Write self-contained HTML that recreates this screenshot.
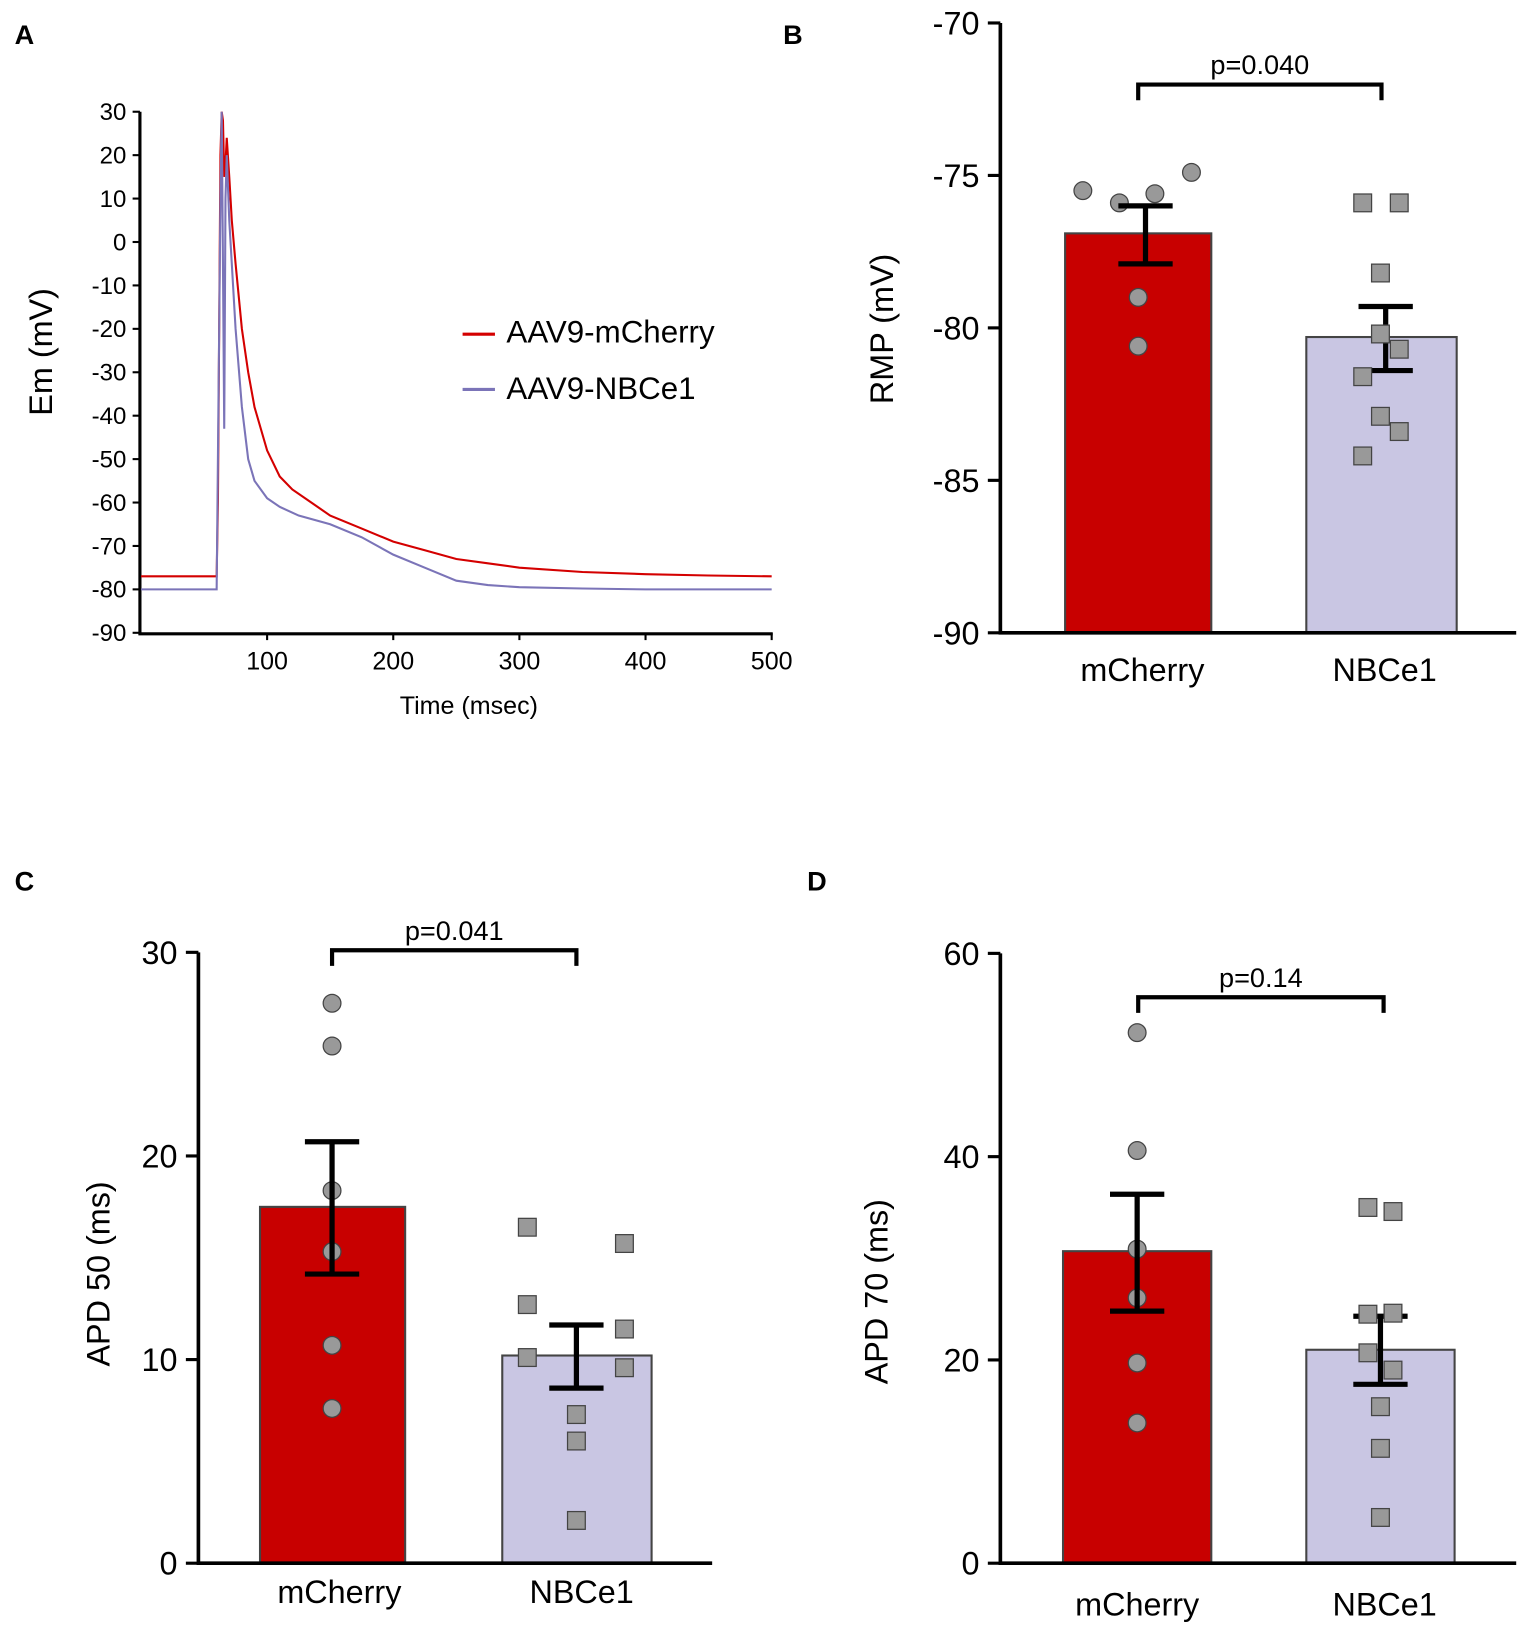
<!DOCTYPE html>
<html><head><meta charset="utf-8">
<style>
html,body{margin:0;padding:0;background:#fff;}
svg{display:block;font-family:"Liberation Sans",Arial,sans-serif;}
</style></head>
<body>
<svg id="fig" width="1535" height="1641" viewBox="0 0 1470 1571.5" preserveAspectRatio="none" xmlns="http://www.w3.org/2000/svg">
<rect width="1470" height="1572" fill="#fff"/>
<text x="14" y="42" font-size="26" font-weight="bold">A</text>
<text x="750" y="42" font-size="26" font-weight="bold">B</text>
<text x="14" y="853" font-size="26" font-weight="bold">C</text>
<text x="773" y="853" font-size="26" font-weight="bold">D</text>
<g id="pa"></g>
<g id="pb"></g>
<g id="pc"></g>
<g id="pd"></g>
</svg>
<script>
// Panel A data
const aTicksY = [30,20,10,0,-10,-20,-30,-40,-50,-60,-70,-80,-90];
const aTicksX = [100,200,300,400,500];
const redT = [0,60,61,62,63,64,65,66,67,68,70,72,75,80,85,90,100,110,120,135,150,175,200,225,250,275,300,350,400,450,500];
const redV = [-77,-77,-60,-20,20,30,28,15,18,24,15,5,-5,-20,-30,-38,-48,-54,-57,-60,-63,-66,-69,-71,-73,-74,-75,-76,-76.5,-76.8,-77];
const blueT = [0,60,61,62,63,64,65,66,67,68,70,75,80,85,90,100,110,125,150,175,200,225,250,275,300,350,400,450,500];
const blueV = [-80,-80,-50,-20,10,30,-5,-43,10,20,5,-20,-38,-50,-55,-59,-61,-63,-65,-68,-72,-75,-78,-79,-79.5,-79.8,-80,-80,-80];

const NS="http://www.w3.org/2000/svg";
function mk(par,tag,attrs,txt){const e=document.createElementNS(NS,tag);for(const k in attrs)e.setAttribute(k,attrs[k]);if(txt!==undefined)e.textContent=txt;par.appendChild(e);return e;}

(function(){
 const g=document.getElementById('pa');
 const x=t=>135+t*(739-135)/500, y=v=>107+(30-v)*(606-107)/120;
 const axes=mk(g,'path',{d:`M134 ${y(30)} V607 H740`,stroke:'#000','stroke-width':3,fill:'none'});
 
 
 aTicksY.forEach(v=>{
  mk(g,'line',{x1:127,x2:134,y1:y(v),y2:y(v),stroke:'#000','stroke-width':2});
  const t=mk(g,'text',{x:121,y:y(v)+8,'font-size':23,'text-anchor':'end'},v);
  
  
 });
 aTicksX.forEach(v=>{
  mk(g,'line',{x1:x(v),x2:x(v),y1:606,y2:613,stroke:'#000','stroke-width':2});
  const t=mk(g,'text',{x:x(v),y:641,'font-size':24,'text-anchor':'middle'},v);
  
  
 });
 const xl=mk(g,'text',{x:449,y:684,'font-size':24,'text-anchor':'middle'},'Time (msec)');
 
 
 const yl=mk(g,'text',{x:0,y:0,'font-size':31,'text-anchor':'middle',transform:'translate(50,337) rotate(-90)'},'Em (mV)');
 
 
 const red=mk(g,'polyline',{points:redT.map((t,i)=>x(t)+','+y(redV[i])).join(' '),stroke:'#d40000','stroke-width':2,fill:'none'});
 
 
 const blue=mk(g,'polyline',{points:blueT.map((t,i)=>x(t)+','+y(blueV[i])).join(' '),stroke:'#7b74b8','stroke-width':2,fill:'none'});
 
 
 mk(g,'line',{x1:443,x2:474,y1:320,y2:320,stroke:'#d40000','stroke-width':3});
 const l1=mk(g,'text',{x:485,y:328,'font-size':30},'AAV9-mCherry');
 
 
 mk(g,'line',{x1:443,x2:474,y1:373,y2:373,stroke:'#7b74b8','stroke-width':3});
 const l2=mk(g,'text',{x:485,y:382,'font-size':30},'AAV9-NBCe1');
 
 
})();

// Bar chart data
const categories = ['mCherry','NBCe1'];
// Panel B
const bMeans = [-76.9,-80.3];
const bSemLo = [-77.9,-81.4];
const bSemHi = [-76.0,-79.3];
const bPtsM = [-75.5,-75.9,-75.6,-74.9,-79.0,-80.6];
const bPtsN = [-75.9,-75.9,-78.2,-80.2,-80.7,-81.6,-82.9,-83.4,-84.2];
const bTicks = [-70,-75,-80,-85,-90];
// Panel C
const cMeans = [17.5,10.2];
const cSemLo = [14.2,8.6];
const cSemHi = [20.7,11.7];
const cPtsM = [27.5,25.4,18.3,15.3,10.7,7.6];
const cPtsN = [16.5,15.7,12.7,11.5,10.1,9.6,7.3,6.0,2.1];
const cTicks = [0,10,20,30];
// Panel D
const dMeans = [30.7,21.0];
const dSemLo = [24.8,17.6];
const dSemHi = [36.3,24.3];
const dPtsM = [52.2,40.6,30.9,26.1,19.7,13.8];
const dPtsN = [35.0,34.6,24.5,24.6,20.7,19.0,15.4,11.3,4.5];
const dTicks = [0,20,40,60];

function barPanel(id,o){
 const g=document.getElementById(id);
 const y=v=>o.yb+(v-o.vmin)*(o.yt-o.yb)/(o.vmax-o.vmin);
 const fills=['#c80000','#c9c6e3'];
 o.bars.forEach((b,i)=>{
  const top=y(o.means[i]);
  const r=mk(g,'rect',{x:b[0],y:top,width:b[1]-b[0],height:o.yb-top,fill:fills[i],stroke:'#444','stroke-width':2});
  
  
 });
 const ax=mk(g,'path',{d:`M${o.ax} ${o.yt} V${o.yb} H${o.xe}`,stroke:'#000','stroke-width':3.5,fill:'none'});
 
 
 o.ticks.forEach(v=>{
  mk(g,'line',{x1:o.ax-12,x2:o.ax,y1:y(v),y2:y(v),stroke:'#000','stroke-width':3});
  const t=mk(g,'text',{x:o.ax-20,y:y(v)+11,'font-size':31,'text-anchor':'end'},v);
  
  
 });
 o.ptsM.forEach((v,i)=>{
  const c=mk(g,'circle',{cx:o.pxM[i],cy:y(v),r:8.5,fill:'#999','stroke':'#444','stroke-width':1.2});
  
  
 });
 o.bars.forEach((b,i)=>{
  const cx=o.ecx[i], lo=y(o.lo[i]), hi=y(o.hi[i]);
  const e=mk(g,'path',{d:`M${cx} ${lo} V${hi} M${cx-26} ${hi} H${cx+26} M${cx-26} ${lo} H${cx+26}`,stroke:'#000','stroke-width':5,fill:'none'});
  
  
 });
 o.ptsN.forEach((v,i)=>{
  const s=mk(g,'rect',{x:o.pxN[i]-8.5,y:y(v)-8.5,width:17,height:17,fill:'#999','stroke':'#444','stroke-width':1.2});
  
  
 });
 categories.forEach((c,i)=>{
  const t=mk(g,'text',{x:o.lx[i],y:o.ly,'font-size':31,'text-anchor':'middle'},c);
  
  
 });
 const br=mk(g,'path',{d:`M${o.br[0]} ${o.by+15} V${o.by} H${o.br[1]} V${o.by+15}`,stroke:'#000','stroke-width':4,fill:'none'});
 
 
 const p=mk(g,'text',{x:(o.br[0]+o.br[1])/2,y:o.by-10,'font-size':26,'text-anchor':'middle'},o.p);
 
 
 const yl=mk(g,'text',{x:0,y:0,'font-size':31,'text-anchor':'middle',transform:`translate(${o.ylx},${o.yly}) rotate(-90)`},o.ylabel);
 
 
}
barPanel('pb',{means:bMeans,lo:bSemLo,hi:bSemHi,ptsM:bPtsM,ptsN:bPtsN,ticks:bTicks,vmin:-90,vmax:-70,yb:606,yt:22,ax:958,xe:1452,
 bars:[[1020,1160],[1251,1395]],ecx:[1097,1327],pxM:[1037,1072,1106,1141,1090,1090],pxN:[1305,1340,1322,1322,1340,1305,1322,1340,1305],
 lx:[1094,1326],ly:652,br:[1090,1323],by:81,p:'p=0.040',ylabel:'RMP (mV)',ylx:855,yly:315});
barPanel('pc',{means:cMeans,lo:cSemLo,hi:cSemHi,ptsM:cPtsM,ptsN:cPtsN,ticks:cTicks,vmin:0,vmax:30,yb:1497,yt:912,ax:190,xe:682,
 bars:[[249,388],[481,624]],ecx:[318,552],pxM:[318,318,318,318,318,318],pxN:[505,598,505,598,505,598,552,552,552],
 lx:[325,557],ly:1535,br:[318,552],by:910,p:'p=0.041',ylabel:'APD 50 (ms)',ylx:105,yly:1220});
barPanel('pd',{means:dMeans,lo:dSemLo,hi:dSemHi,ptsM:dPtsM,ptsN:dPtsN,ticks:dTicks,vmin:0,vmax:60,yb:1497,yt:913,ax:958,xe:1452,
 bars:[[1018,1160],[1251,1393]],ecx:[1089,1322],pxM:[1089,1089,1089,1089,1089,1089],pxN:[1310,1334,1310,1334,1310,1334,1322,1322,1322],
 lx:[1089,1326],ly:1547,br:[1090,1325],by:955,p:'p=0.14',ylabel:'APD 70 (ms)',ylx:850,yly:1237});
</script>
</body></html>
